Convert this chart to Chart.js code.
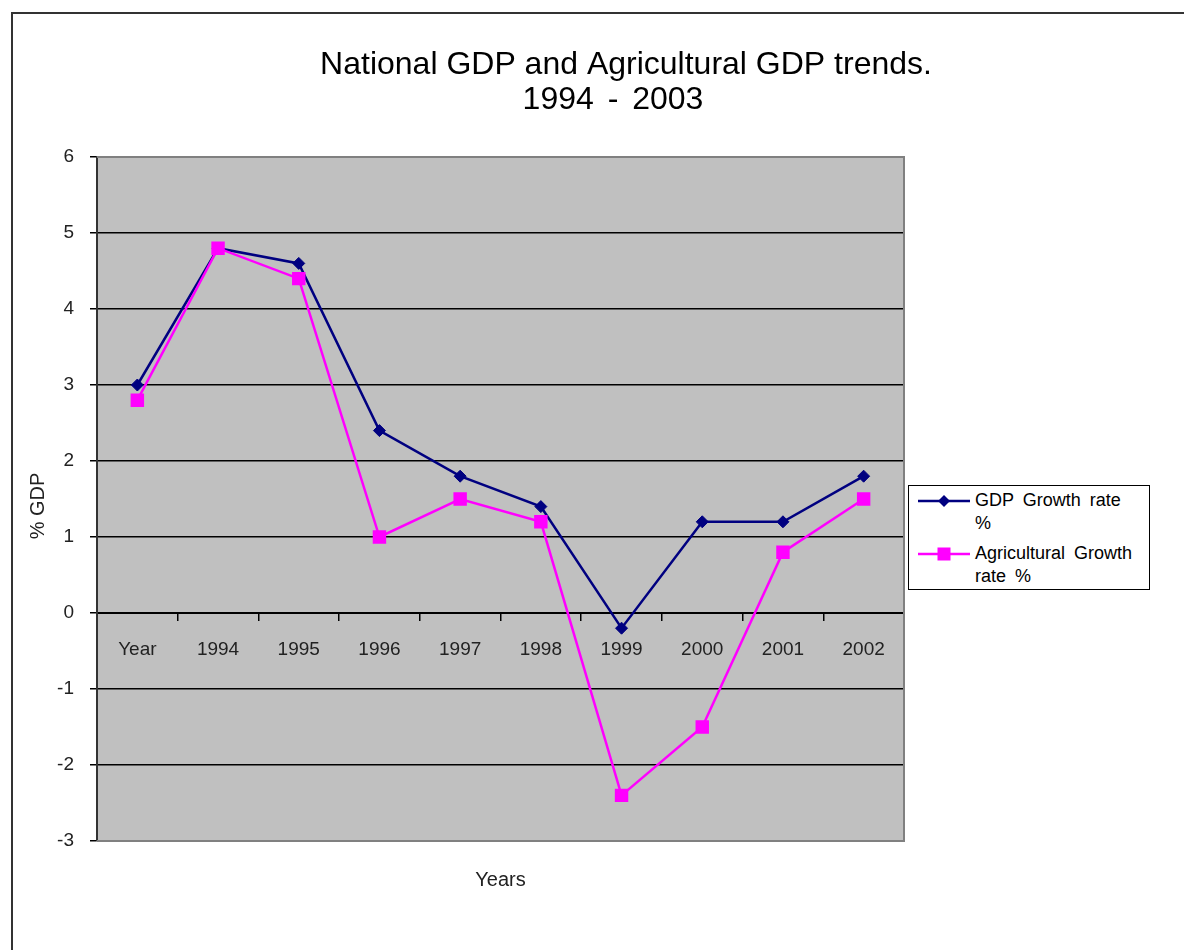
<!DOCTYPE html>
<html>
<head>
<meta charset="utf-8">
<title>National GDP and Agricultural GDP trends</title>
<script src="https://cdn.jsdelivr.net/npm/chart.js@4.4.0/dist/chart.umd.min.js"></script>
<style>
html, body { margin: 0; padding: 0; background: #fff; }
#wrap { position: relative; width: 1184px; height: 950px; overflow: hidden; }
#frame { position: absolute; left: 11px; top: 12px; width: 1300px; height: 1100px;
  border-left: 2px solid #333; border-top: 2px solid #333; box-sizing: border-box; }
#myChart { position: absolute; left: 0; top: 0; }
#legend { position: absolute; left: 908px; top: 485px; width: 242px; height: 105px;
  border: 1px solid #000; background: #fff; box-sizing: border-box;
  font-family: 'Liberation Sans', Arial, sans-serif; font-size: 18px; color: #000; }
.item { position: absolute; left: 0; }
.item svg { position: absolute; left: 9px; top: 5px; }
.item span { position: absolute; left: 66px; width: 172px; line-height: 23px; word-spacing: 4px; white-space: pre; }
</style>
</head>
<body>
<div id="wrap">
  <div id="frame"></div>
  <canvas id="myChart" width="1184" height="950"></canvas>
  <div id="legend"></div>
</div>
<script>
// chart values
const categories = ['Year', '1994', '1995', '1996', '1997', '1998', '1999', '2000', '2001', '2002'];
const gdpGrowth = [3.0, 4.8, 4.6, 2.4, 1.8, 1.4, -0.2, 1.2, 1.2, 1.8];
const agriGrowth = [2.8, 4.8, 4.4, 1.0, 1.5, 1.2, -2.4, -1.5, 0.8, 1.5];
const yMin = -3;
const yMax = 6;
const seriesNames = ['GDP Growth rate %', 'Agricultural Growth rate %'];
// how the legend box wraps each name
const legendLines = [['GDP Growth rate', '%'], ['Agricultural Growth', 'rate %']];

const FONT = "'Liberation Sans', Arial, sans-serif";
Chart.defaults.font.family = FONT;

// grey plot area, its border and the text around it
const excelLook = {
  id: 'excelLook',
  beforeDraw(chart) {
    const {ctx, chartArea: a} = chart;
    ctx.save();
    ctx.fillStyle = '#c0c0c0';
    ctx.fillRect(a.left, a.top, a.right - a.left, a.bottom - a.top);
    ctx.restore();
  },
  beforeDatasetsDraw(chart) {
    const {ctx, chartArea: a} = chart;
    ctx.save();
    ctx.strokeStyle = '#808080';
    ctx.lineWidth = 2;
    ctx.beginPath();
    ctx.moveTo(a.left, a.top);
    ctx.lineTo(a.right, a.top);
    ctx.lineTo(a.right, a.bottom);
    ctx.lineTo(a.left, a.bottom);
    ctx.stroke();
    ctx.restore();
  },
  afterDraw(chart) {
    const {ctx, chartArea: a} = chart;
    ctx.save();
    ctx.fillStyle = '#000';
    ctx.textAlign = 'center';
    ctx.textBaseline = 'alphabetic';
    ctx.font = '32px ' + FONT;
    ctx.fillText('National GDP and Agricultural GDP trends.', 626, 74);
    ctx.wordSpacing = '5px';
    ctx.fillText('1994 - 2003', 613, 109);
    ctx.wordSpacing = '0px';

    ctx.fillStyle = '#222';
    ctx.font = '20px ' + FONT;
    ctx.textBaseline = 'middle';
    ctx.fillText('Years', (a.left + a.right) / 2, 880);

    ctx.translate(38, 506);
    ctx.rotate(-Math.PI / 2);
    ctx.fillText('% GDP', 0, 0);
    ctx.restore();
  }
};

const ctx = document.getElementById('myChart');
const myChart = new Chart(ctx, {
  type: 'line',
  data: {
    labels: categories,
    datasets: [{
      label: seriesNames[0],
      data: gdpGrowth,
      borderColor: '#000080',
      backgroundColor: '#000080',
      borderWidth: 2.5,
      pointStyle: 'rectRot',
      pointRadius: 6,
      pointBorderWidth: 1,
      pointBackgroundColor: '#000080',
      pointBorderColor: '#000080',
      lineTension: 0,
      order: 2
    }, {
      label: seriesNames[1],
      data: agriGrowth,
      borderColor: '#ff00ff',
      backgroundColor: '#ff00ff',
      borderWidth: 2.5,
      pointStyle: 'rect',
      pointRadius: 9.5,
      pointBorderWidth: 0,
      pointBackgroundColor: '#ff00ff',
      pointBorderColor: '#ff00ff',
      lineTension: 0,
      order: 1
    }]
  },
  options: {
    responsive: false,
    animation: false,
    events: [],
    layout: { padding: { left: 0, top: 157, right: 280, bottom: 109 } },
    plugins: {
      legend: { display: false },
      title: { display: false },
      tooltip: { enabled: false }
    },
    scales: {
      x: {
        type: 'category',
        position: { y: 0 },
        offset: true,
        grid: { offset: true, drawOnChartArea: false, drawTicks: true, tickLength: 7, color: '#000', lineWidth: 1.5 },
        border: { display: true, color: '#000', width: 2 },
        ticks: { color: '#222', font: { size: 19 }, padding: 18, maxRotation: 0, autoSkip: false },
        afterFit: (scale) => { scale.height = 0; }
      },
      y: {
        min: yMin,
        max: yMax,
        ticks: { stepSize: 1, color: '#222', font: { size: 19 }, padding: 16 },
        grid: { color: '#000', lineWidth: 1.5, tickLength: 7 },
        border: { color: '#333', width: 2 },
        afterFit: (scale) => { scale.width = 97; }
      }
    }
  },
  plugins: [excelLook]
});

// legend with line + marker samples
const legend = document.getElementById('legend');
const samples = [
  { top: 3, color: '#000080', marker: '<polygon points="26,1 32,7 26,13 20,7" fill="#000080"/>' },
  { top: 56, color: '#ff00ff', marker: '<rect x="19.5" y="0.5" width="13" height="13" fill="#ff00ff"/>' }
];
samples.forEach((s, i) => {
  const div = document.createElement('div');
  div.className = 'item';
  div.style.top = s.top + 'px';
  div.innerHTML = '<svg width="52" height="14"><line x1="0" y1="7" x2="52" y2="7" stroke="' + s.color +
    '" stroke-width="2.5"/>' + s.marker + '</svg><span>' + legendLines[i].join('\n') + '</span>';
  legend.appendChild(div);
});
</script>
</body>
</html>
